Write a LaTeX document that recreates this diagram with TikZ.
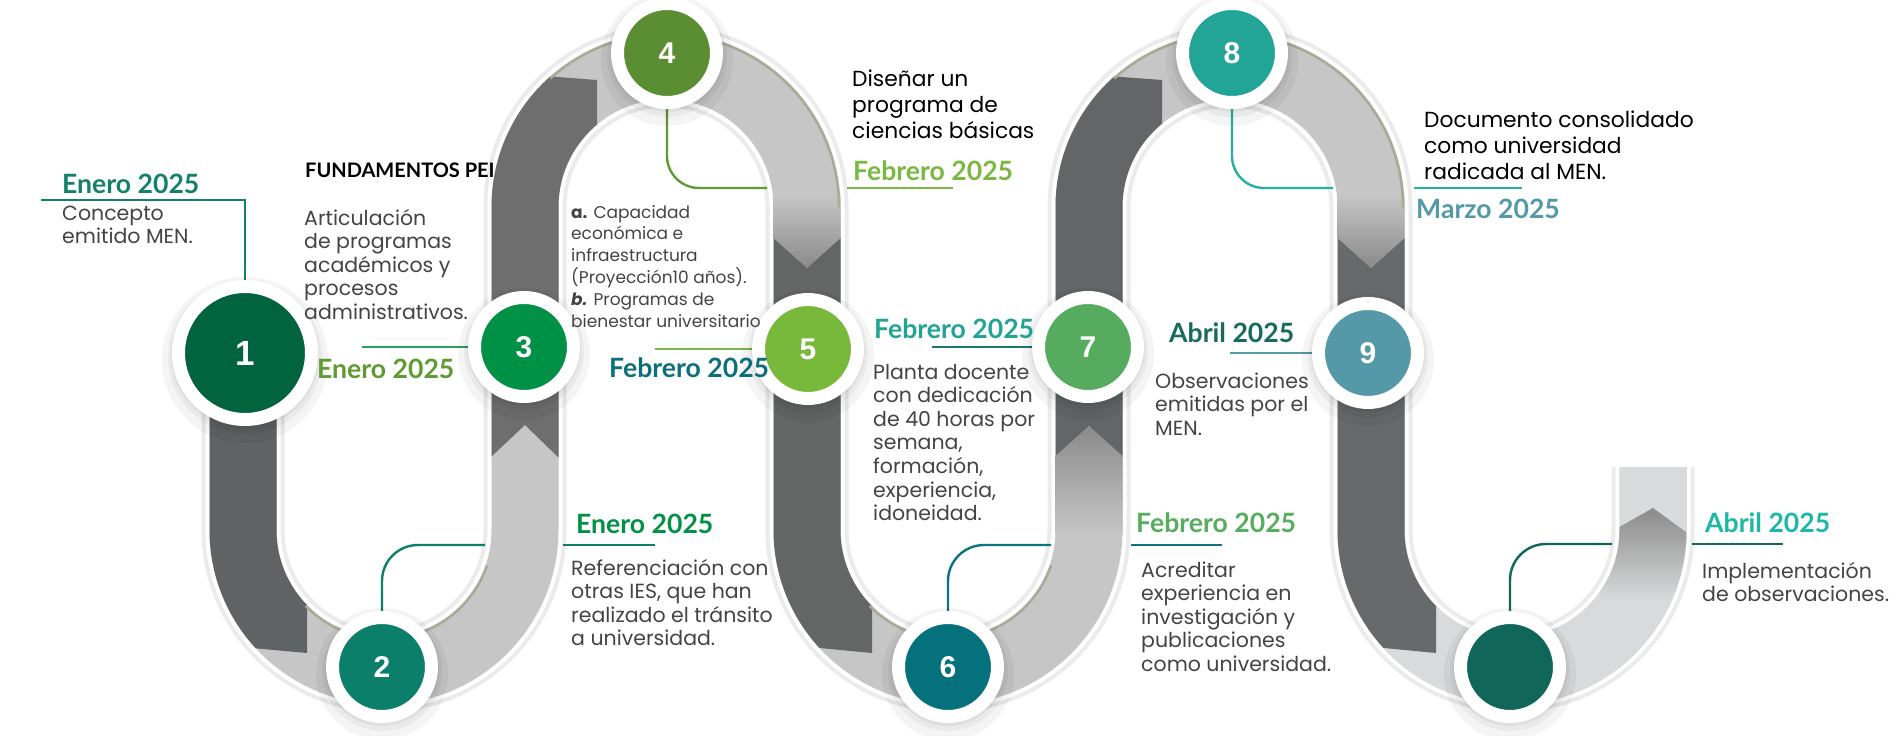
\documentclass[tikz,border=0pt]{standalone}
\usepackage{fontspec}
\setmainfont{Poppins}
\newfontfamily\datefont{Lato}
\newfontfamily\numfont{Liberation Sans}
\pgfdeclarelayer{bandlayer}
\pgfdeclarelayer{linelayer}
\pgfsetlayers{bandlayer,linelayer,main}
% band colours
\definecolor{bandlight}{HTML}{C6C6C6}
\definecolor{bandlightU}{HTML}{D9DADB}
\definecolor{darkA}{HTML}{5F6363}
\definecolor{darkB}{HTML}{6E6E6E}
\definecolor{darkC}{HTML}{646666}
\definecolor{darkD}{HTML}{626666}
\definecolor{darkE}{HTML}{666A6A}
\definecolor{gradtip}{HTML}{8A8A8A}
\definecolor{rimgrey}{HTML}{EBEBEB}
\definecolor{oliveedge}{HTML}{A8AB96}
\definecolor{bodytext}{HTML}{444444}
% circle colours
\definecolor{cA}{HTML}{02633F}
\definecolor{cB}{HTML}{0C7F6B}
\definecolor{cC}{HTML}{009146}
\definecolor{cD}{HTML}{5B8E32}
\definecolor{cE}{HTML}{78B83A}
\definecolor{cF}{HTML}{05717D}
\definecolor{cG}{HTML}{56AC5E}
\definecolor{cH}{HTML}{22A497}
\definecolor{cI}{HTML}{5599A8}
\definecolor{cJ}{HTML}{11665A}
% label colours
\definecolor{lA}{HTML}{13806A}
\definecolor{lB}{HTML}{5F9A32}
\definecolor{lC}{HTML}{019145}
\definecolor{lD}{HTML}{0B6F7C}
\definecolor{lE}{HTML}{7AB843}
\definecolor{lF}{HTML}{21A493}
\definecolor{lG}{HTML}{58AC5E}
\definecolor{lH}{HTML}{176A5D}
\definecolor{lI}{HTML}{5399A8}
\definecolor{lJ}{HTML}{1DB7A6}
% line colours
\definecolor{kA}{HTML}{13806A}
\definecolor{kC}{HTML}{27A35A}
\definecolor{kD}{HTML}{5F9A32}
\definecolor{kE}{HTML}{7AB843}
\definecolor{kB}{HTML}{0E7F6A}
\definecolor{kG}{HTML}{157A6C}
\definecolor{kF}{HTML}{0A7480}
\definecolor{kH}{HTML}{26B0A3}
\definecolor{kI}{HTML}{5399A8}
\definecolor{kJ}{HTML}{12665A}
\newcommand\roadline{(243,353) -- (243,530)
  arc[start angle=180, end angle=0, radius=141pt] -- (525,207)
  arc[start angle=180, end angle=360, radius=141pt] -- (807,530)
  arc[start angle=180, end angle=0, radius=141pt] -- (1089,207)
  arc[start angle=180, end angle=360, radius=141pt] -- (1371,530)
  arc[start angle=180, end angle=0, radius=141pt] -- (1653,467)}
\tikzset{
  roadbase/.style={line width=67pt},
  stepdisk/.style={circle, draw=white, line width=13pt, minimum size=99pt, inner sep=0pt, text=white, font=\numfont\bfseries\fontsize{30}{30}\selectfont},
  bigdisk/.style={stepdisk, minimum size=133pt, font=\numfont\bfseries\fontsize{35}{35}\selectfont},
  datelabel/.style={anchor=base west, inner sep=0pt, font=\datefont\bfseries\fontsize{26.6}{30}\selectfont},
  bodylabel/.style={anchor=base west, inner sep=0pt, align=left, text=bodytext, font=\fontsize{20.5}{23.6}\selectfont},
  smalllabel/.style={bodylabel, font=\fontsize{17}{21.8}\selectfont},
  biglabel/.style={anchor=base west, inner sep=0pt, align=left, text=black, font=\fontsize{21.8}{26.3}\selectfont},
  headlabel/.style={anchor=base west, inner sep=0pt, text=black, font=\datefont\bfseries\fontsize{20}{24}\selectfont},
  leadline/.style={line width=2.4pt},
  hookline/.style={leadline, rounded corners=34pt},
  oliveline/.style={draw=oliveedge, line width=2.5pt},
  halo/.style={fill=black, opacity=0.045},
}
\begin{document}
\begin{tikzpicture}[x=1pt, y=1pt, yscale=-1]
\useasboundingbox (0,0) rectangle (1896,736);

% ---------- circles (main layer) ----------
\foreach \cx/\cy/\cr in {245/353/73pt, 382/667/56pt, 524/347/56pt, 667/53/56pt, 808/349/56pt, 948/667/56pt, 1088/347/56pt, 1232/53/56pt, 1368/353/56pt, 1510/667/56pt} {
  \fill[halo] (\cx,\cy+7) circle[radius=\cr+10pt];
  \fill[halo] (\cx,\cy+4) circle[radius=\cr+4pt];
  \fill[halo] (\cx,\cy+2) circle[radius=\cr+1pt];
}
\node[bigdisk,  fill=cA] (n1)  at (245,353)  {1};
\node[stepdisk, fill=cB] (n2)  at (382,667)  {2};
\node[stepdisk, fill=cC] (n3)  at (524,347)  {3};
\node[stepdisk, fill=cD] (n4)  at (667,53)   {4};
\node[stepdisk, fill=cE] (n5)  at (808,349)  {5};
\node[stepdisk, fill=cF] (n6)  at (948,667)  {6};
\node[stepdisk, fill=cG] (n7)  at (1088,347) {7};
\node[stepdisk, fill=cH] (n8)  at (1232,53)  {8};
\node[stepdisk, fill=cI] (n9)  at (1368,353) {9};
\node[stepdisk, fill=cJ] (n10) at (1510,667) {};

% ---------- road band ----------
\begin{pgfonlayer}{bandlayer}
  \fill[white] (0,0) rectangle (1896,736);
  \draw[rimgrey, line width=83pt] \roadline;
  \draw[white, line width=75pt] \roadline;
  \draw[roadbase, bandlight] \roadline;
  \draw[roadbase, bandlightU] (1371,530) arc[start angle=180, end angle=0, radius=141pt] -- (1653,467);
  % dark folds
  \begin{scope}
    \clip (100,300) -- (307,300) -- (307,653) -- (252,648) -- (100,634) -- cycle;
    \draw[roadbase, darkA] \roadline;
  \end{scope}
  \begin{scope}
    \clip (440,68) -- (597,80) -- (597,457) -- (558,457) -- (525,425) -- (492,456) -- (440,456) -- cycle;
    \draw[roadbase, darkB] \roadline;
  \end{scope}
  \begin{scope}
    \clip (720,238) -- (774,238) -- (807,268) -- (840,238) -- (872,238) -- (872,653) -- (820,648) -- (720,639) -- cycle;
    \draw[roadbase, darkC] \roadline;
  \end{scope}
  \begin{scope}
    \clip (1000,68) -- (1162,80) -- (1162,457) -- (1122,457) -- (1089,426) -- (1056,456) -- (1000,456) -- cycle;
    \draw[roadbase, darkD] \roadline;
  \end{scope}
  \begin{scope}
    \clip (1280,238) -- (1338,238) -- (1371,268) -- (1404,238) -- (1436,238) -- (1436,653) -- (1384,648) -- (1280,639) -- cycle;
    \draw[roadbase, darkE] \roadline;
  \end{scope}
  % arrow gradients
  \shade[top color=bandlight, bottom color=gradtip] (773.5,195) -- (840.5,195) -- (840.5,238) -- (807,268) -- (773.5,238) -- cycle;
  \shade[top color=bandlight, bottom color=gradtip] (1337.5,195) -- (1404.5,195) -- (1404.5,238) -- (1371,268) -- (1337.5,238) -- cycle;
  \shade[top color=gradtip, bottom color=bandlight] (1055.5,535) -- (1055.5,456) -- (1089,426) -- (1122.5,456) -- (1122.5,535) -- cycle;
  \begin{scope}
    \clip (1619.5,440) -- (1686.5,440) -- (1686.5,530) arc[start angle=0, end angle=90, radius=174.5pt] -- (1512,637.5) arc[start angle=90, end angle=0, radius=107.5pt] -- cycle;
    \shade[top color=gradtip, bottom color=bandlightU] (1600,600) -- (1600,538) -- (1653,508) -- (1705,546) -- (1705,600) -- cycle;
  \end{scope}
  % olive edges
  \draw[oliveline] (666,207) ++(228:173pt) arc[start angle=228, end angle=360, radius=173pt];
  \draw[oliveline] (1230,207) ++(228:173pt) arc[start angle=228, end angle=360, radius=173pt];
  \draw[oliveline] (384,530) ++(19:109pt) arc[start angle=19, end angle=136, radius=109pt];
  \draw[oliveline] (948,530) ++(19:109pt) arc[start angle=19, end angle=136, radius=109pt];
\end{pgfonlayer}

% ---------- connector lines ----------
\begin{pgfonlayer}{linelayer}
  \coordinate (k1) at (41,200);
  \draw[leadline, kA] (k1) -- (k1 -| n1) -- (n1);
  \coordinate (k3) at (362,347);
  \draw[leadline, kC] (k3) -- (n3);
  \coordinate (k4) at (767,188);
  \draw[hookline, kD, rounded corners=32pt] (n4.south) -- (n4.south |- k4) -- (k4);
  \coordinate (k4a) at (847,188); \coordinate (k4b) at (953,188);
  \draw[leadline, kE] (k4a) -- (k4b);
  \coordinate (k5) at (655,349);
  \draw[leadline, kE] (k5) -- (n5);
  \coordinate (k7) at (932,347);
  \draw[leadline, kG] (k7) -- (n7);
  \coordinate (k2) at (485,545);
  \draw[hookline, kB, rounded corners=36pt] (n2.north) -- (n2.north |- k2) -- (k2);
  \coordinate (k2a) at (563,545); \coordinate (k2b) at (655,545);
  \draw[leadline, kB] (k2a) -- (k2b);
  \coordinate (k6) at (1051,545);
  \draw[hookline, kF, rounded corners=36pt] (n6.north) -- (n6.north |- k6) -- (k6);
  \coordinate (k6a) at (1131,545); \coordinate (k6b) at (1222,545);
  \draw[leadline, kF] (k6a) -- (k6b);
  \coordinate (k8) at (1333,188);
  \draw[hookline, kH, rounded corners=32pt] (n8.south) -- (n8.south |- k8) -- (k8);
  \coordinate (k8a) at (1414,188); \coordinate (k8b) at (1522,188);
  \draw[leadline, kH] (k8a) -- (k8b);
  \coordinate (k9) at (1230,353);
  \draw[leadline, kI] (k9) -- (n9);
  \coordinate (k10) at (1612,544);
  \draw[hookline, kJ, rounded corners=36pt] (n10.north) -- (n10.north |- k10) -- (k10);
  \coordinate (k10a) at (1692,544); \coordinate (k10b) at (1783,544);
  \draw[leadline, kJ] (k10a) -- (k10b);
\end{pgfonlayer}

% ---------- texts (multi-line nodes are placed by their last baseline) ----------
\node[datelabel, text=lA] (d1) at (62,193) {Enero 2025};
\node[bodylabel] (b1) at (62,243.6) {Concepto\\emitido MEN.};
\node[headlabel] (h2) at (305,177) {FUNDAMENTOS PEI};
\node[bodylabel] (b2) at (304,319.4) {Articulación\\de programas\\académicos y\\procesos\\administrativos.};
\node[datelabel, text=lB] (d2) at (317,378) {Enero 2025};
\node[smalllabel] (b3) at (571,327) {\textbf{a.} Capacidad\\económica e\\infraestructura\\(Proyección10 años).\\\textbf{\textit{b.}} Programas de\\bienestar universitario};
\node[datelabel, text=lD] (d3) at (609,377) {Febrero 2025};
\node[biglabel] (b4) at (852,138.6) {Diseñar un\\programa de\\ciencias básicas};
\node[datelabel, text=lE] (d4) at (853,180) {Febrero 2025};
\node[datelabel, text=lF] (d5) at (874,338) {Febrero 2025};
\node[bodylabel] (b5) at (873,520.6) {Planta docente\\con dedicación\\de 40 horas por\\semana,\\formación,\\experiencia,\\idoneidad.};
\node[datelabel, text=lG] (d6) at (1136,532) {Febrero 2025};
\node[bodylabel] (b6) at (1141,671.4) {Acreditar\\experiencia en\\investigación y\\publicaciones\\como universidad.};
\node[datelabel, text=lC] (d7) at (576,533) {Enero 2025};
\node[bodylabel] (b7) at (571,645.8) {Referenciación con\\otras IES, que han\\realizado el tránsito\\a universidad.};
\node[datelabel, text=lH] (d8) at (1169,342) {Abril 2025};
\node[bodylabel] (b8) at (1155,435.2) {Observaciones\\emitidas por el\\MEN.};
\node[biglabel] (b9) at (1424,179.6) {Documento consolidado\\como universidad\\radicada al MEN.};
\node[datelabel, text=lI] (d9) at (1416,218) {Marzo 2025};
\node[datelabel, text=lJ] (d10) at (1705,532) {Abril 2025};
\node[bodylabel] (b10) at (1702,601.6) {Implementación\\de observaciones.};
\end{tikzpicture}
\end{document}
